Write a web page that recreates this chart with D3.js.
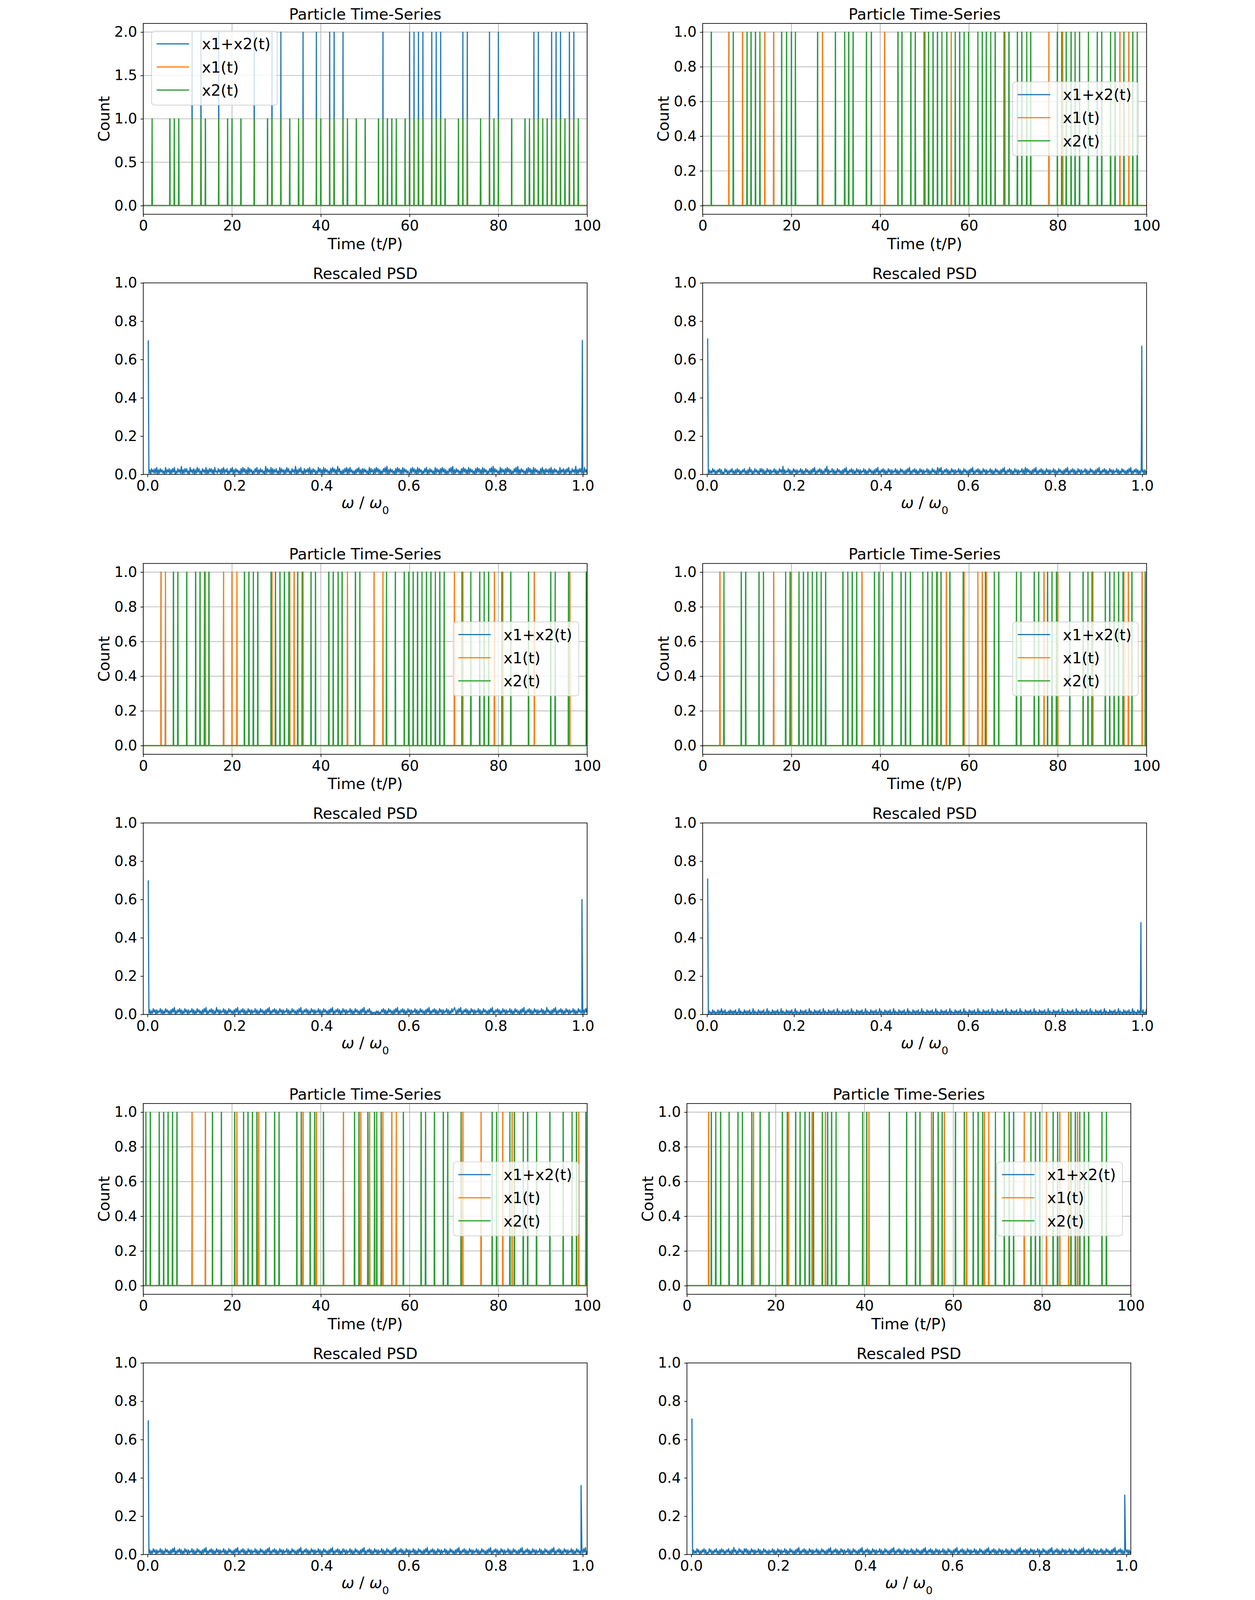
<!DOCTYPE html>
<html>
<head>
<meta charset="utf-8">
<script src="https://cdn.jsdelivr.net/npm/d3@7"></script>
<style>
  html, body { margin: 0; padding: 0; background: #fff; overflow: hidden; }
  #fig { display: block; width: 100vw; height: 100vh; }
  text { font-family: "DejaVu Sans", sans-serif; fill: #000; }
</style>
</head>
<body>
<svg id="fig" viewBox="0 0 3213 4779" preserveAspectRatio="xMidYMin meet"></svg>
<script>
// ---------------- data ----------------
const seriesNames = ["x1+x2(t)", "x1(t)", "x2(t)"];
const timeTicks = [0, 20, 40, 60, 80, 100];
const countTicks2 = [0, 0.5, 1, 1.5, 2];
const countTicks1 = [0, 0.2, 0.4, 0.6, 0.8, 1];
const freqTicks = [0, 0.2, 0.4, 0.6, 0.8, 1];
const psdTicks = [0, 0.2, 0.4, 0.6, 0.8, 1];

// spike times (t/P) of x1 and x2, one pair per time-series panel
const x1Times1 = [11, 13, 17, 25, 29, 31, 36, 39, 42, 43, 45, 54, 60, 61, 62, 63, 65, 66, 67, 72, 73, 78, 80, 88, 89, 92, 93, 94, 96, 97];
const x2Times1 = [2, 6, 7, 8, 11, 13, 14, 17, 19, 20, 22, 25, 28, 29, 31, 33, 35, 36, 39, 40, 42, 43, 45, 46, 48, 50, 53, 54, 55, 56, 57, 59, 60, 61, 62, 63, 65, 66, 67, 68, 71, 72, 73, 76, 78, 79, 80, 83, 86, 87, 88, 89, 90, 91, 92, 93, 94, 95, 96, 97, 98];

const x1Times2 = [5.9, 9.0, 14.0, 16.0, 27.0, 41.0, 50.1, 56.0, 68.1, 78.0, 81.1, 94.0, 96.0];
const x2Times2 = [1.95, 6.9, 10.0, 10.9, 11.9, 12.9, 17.8, 18.9, 20.0, 20.9, 25.9, 29.9, 32.0, 32.9, 33.9, 36.9, 38.0, 44.0, 44.9, 46.9, 47.9, 49.9, 50.9, 51.9, 52.9, 53.9, 55.0, 56.9, 57.9, 58.9, 59.9, 62.0, 63.0, 63.9, 64.9, 65.9, 67.9, 69.0, 70.9, 71.9, 73.0, 73.9, 79.9, 80.9, 81.9, 83.0, 83.9, 84.9, 86.9, 88.9, 89.9, 91.9, 92.9, 94.9, 96.9, 97.9];

const x1Times3 = [4.0, 5.0, 14.0, 18.1, 20.0, 21.1, 29.0, 33.0, 34.0, 36.0, 46.0, 52.0, 54.0, 70.1, 72.0, 79.1, 81.0, 88.1, 96.1];
const x2Times3 = [6.8, 7.8, 9.8, 11.8, 12.8, 13.8, 14.8, 22.8, 23.8, 24.8, 25.8, 28.8, 29.8, 30.8, 31.8, 32.8, 34.8, 35.8, 37.8, 38.8, 41.8, 42.8, 43.9, 44.8, 47.8, 48.8, 54.8, 56.8, 58.8, 59.8, 60.8, 61.8, 62.8, 63.8, 64.8, 65.8, 66.8, 67.8, 71.8, 73.8, 75.8, 76.8, 77.8, 80.8, 82.8, 86.8, 91.8, 92.8, 95.8, 99.8];

const x1Times4 = [3.9, 16.0, 20.0, 35.9, 52.9, 54.9, 58.9, 62.0, 63.0, 63.9, 76.9, 80.0, 87.9, 94.9, 95.9, 99.0];
const x2Times4 = [4.8, 8.7, 9.7, 12.7, 13.7, 18.7, 19.7, 21.7, 22.7, 23.7, 24.7, 25.7, 26.7, 27.7, 31.6, 32.7, 33.7, 34.7, 38.7, 39.7, 40.7, 42.7, 44.7, 45.7, 46.8, 49.6, 50.7, 51.7, 52.7, 53.7, 55.7, 58.7, 63.7, 65.7, 66.7, 70.7, 71.7, 74.7, 75.7, 77.7, 78.7, 79.7, 82.7, 85.7, 86.8, 87.7, 90.7, 91.7, 92.7, 93.7, 94.7, 96.7, 99.7];

const x1Times5 = [11.0, 14.0, 21.1, 26.0, 36.0, 39.0, 45.1, 49.0, 51.0, 54.0, 56.0, 57.0, 72.0, 76.1, 81.0, 83.1, 98.1];
const x2Times5 = [0.6, 1.6, 3.6, 4.6, 5.6, 6.6, 7.6, 15.6, 17.6, 20.6, 22.6, 23.6, 24.6, 25.6, 27.6, 29.6, 30.6, 34.6, 35.6, 37.6, 38.6, 40.6, 47.6, 48.6, 50.6, 52.1, 52.6, 53.6, 58.6, 62.6, 63.6, 65.6, 67.6, 68.6, 71.6, 78.6, 79.6, 82.6, 83.6, 85.6, 86.6, 88.6, 91.6, 94.6, 96.6, 97.6, 99.7];

const x1Times6 = [4.9, 15.0, 22.9, 28.2, 31.2, 41.0, 55.1, 58.0, 63.0, 67.0, 68.0, 76.0, 81.0, 84.0, 86.0, 88.0];
const x2Times6 = [5.5, 6.5, 7.6, 9.5, 11.5, 12.5, 14.6, 16.5, 18.5, 21.5, 22.6, 24.5, 25.5, 26.6, 27.6, 28.5, 30.5, 31.7, 32.6, 33.6, 36.5, 39.6, 40.5, 45.6, 49.5, 51.5, 52.5, 55.5, 56.6, 57.5, 60.5, 62.5, 64.5, 65.6, 66.6, 69.5, 71.5, 72.6, 73.6, 77.5, 78.5, 79.5, 82.5, 83.5, 86.5, 87.5, 88.5, 89.5, 90.5, 93.5, 94.5];

// PSD peaks [omega/omega0, power]
const psdPeaks1 = [[0.0015, 0.70], [0.999, 0.70]];
const psdPeaks2 = [[0.0015, 0.71], [0.999, 0.67]];
const psdPeaks3 = [[0.0015, 0.70], [0.998, 0.60]];
const psdPeaks4 = [[0.0015, 0.71], [0.997, 0.48]];
const psdPeaks5 = [[0.0015, 0.70], [0.996, 0.36]];
const psdPeaks6 = [[0.0015, 0.71], [0.996, 0.31]];

// PSD noise floor, one digit per sample, in units of 0.006
const psdNoise1 =
  "1405241516041524130614250415260315241704152513062415041625130524160415251406231524051614250315260415" +
  "2413051625140615240315260415241307152416051425130615240416251305241704152613051425160415240316251406" +
  "1524130516251407251304152605162413041526140515241306152405162514031526170415241305162514061524131051" +
  "6251406152403152604152413061524051625140315261704152413051625140615241305162514061524031526071524130" +
  "6152405162514031526170415241305162514061524130516140524151604152413061425041526031524170415251306241";
const psdNoise2 =
  "0413152403142514021524031425130415240314251304162403152413052514031524041325140315241704132514031524" +
  "0413251403152413041526031425140315270413251403152413041526031425140315240413251403152413041526031425" +
  "1403152404132514031524130415260314251403152404132514031524130615260314251403152404132514031524130415" +
  "2603142514031524041325140315241304152603142514031524041325140615241304152603142514031524041325140315" +
  "2413041526031425140315240413251403152413041526031425140315240413251403152413041526031425140315240413";
const psdNoise3 =
  "1403152404132514031524130415260314251403152404132514031524130415260314251403162404132514031524130415" +
  "2603142514031524041325140315241304152603142514031524041325140315241304152603142514031524041325140315" +
  "2413041526031425140315240413251403152413041526031425130212031302142514031524130415260314251403152404" +
  "1325140315241304152603142514031524041325140315246304152603142514031524041325140315241304152603142514" +
  "0315240413251403152413041526031425140315240413251403162413041526031425140315240413251403152413041526";
const psdNoise4 =
  "0312041302140315031402130413031402150312041303140215031204130314021503120413031402150312041303140215" +
  "0312041303140215031204130314021503120413031402150312041303140215031204130314021503120413031402150312" +
  "0413031402150312041303140215031204130314021503120413031402150312041303140215031204130314021503120413" +
  "0314021503120413031402150312041303140215031204130314021503120413031402150312041303140215031204130314" +
  "0215031204130314021503120413031402150312041303140215031204130314021503120413031402150312041303140215";
const psdNoise5 =
  "1403152404132514031524130415260314251403152404132514031524130415260314251403152404132514031524130415" +
  "2603142514031524041325140315241304152603142514031524041325140315241304152603142514031524041325140315" +
  "2413041526031425140315240413251403152413041526031425140315240413251403152413041526031425140315240413" +
  "2514031524130415260314251403152404132514031524130415260314251403152404132514031524130415260314251403" +
  "1524041325140315241304152603142514031524041325140315241304152603142514031524041325140315241304152603";
const psdNoise6 =
  "0413152403142514021524031425130415240314251304162403152413052514031524041325140315241304132514031524" +
  "0413251403152413041526031425140315240413251403152413041526031425140315240413251403152413041526031425" +
  "1403152404132514031524130415260314251403152404132514031524130415260314251403152404132514031524130415" +
  "2603142514031524041325140315241304152603142514031524041325140315241304152603142514031524041325140315" +
  "2413041526031425140315240413251403152413041526031425140315240413251403152413041526031425140315240413";

// ---------------- layout ----------------
const colors = ["#1f77b4", "#ff7f0e", "#2ca02c"];
const W = 1326, H_TS = 570, H_PSD = 572;
const dt = 0.05;          // half width of a one-sample spike
const svg = d3.select("#fig");

const tsPanels = [
  {x0: 160,  y0: 70,   x1: x1Times1, x2: x2Times1, yMax: 2, ticks: countTicks2, legend: "ul"},
  {x0: 1831, y0: 70,   x1: x1Times2, x2: x2Times2, yMax: 1, ticks: countTicks1, legend: "cr"},
  {x0: 160,  y0: 1683, x1: x1Times3, x2: x2Times3, yMax: 1, ticks: countTicks1, legend: "cr"},
  {x0: 1831, y0: 1683, x1: x1Times4, x2: x2Times4, yMax: 1, ticks: countTicks1, legend: "cr"},
  {x0: 160,  y0: 3296, x1: x1Times5, x2: x2Times5, yMax: 1, ticks: countTicks1, legend: "cr"},
  {x0: 1784, y0: 3296, x1: x1Times6, x2: x2Times6, yMax: 1, ticks: countTicks1, legend: "cr"}
];
const psdPanels = [
  {x0: 160,  y0: 845,  peaks: psdPeaks1, noise: psdNoise1},
  {x0: 1831, y0: 845,  peaks: psdPeaks2, noise: psdNoise2},
  {x0: 160,  y0: 2458, peaks: psdPeaks3, noise: psdNoise3},
  {x0: 1831, y0: 2458, peaks: psdPeaks4, noise: psdNoise4},
  {x0: 160,  y0: 4071, peaks: psdPeaks5, noise: psdNoise5},
  {x0: 1784, y0: 4071, peaks: psdPeaks6, noise: psdNoise6}
];

// turn a list of [t, value] events into a line through zero between spikes
function spikeLine(events) {
  const pts = [[0, 0]];
  events.forEach(([t, v]) => pts.push([t - dt, 0], [t, v], [t + dt, 0]));
  pts.push([100, 0]);
  return pts;
}

function styleAxis(g) {
  g.select(".domain").remove();
  g.selectAll(".tick line").attr("stroke", "#000").attr("stroke-width", 2);
  g.selectAll(".tick text").style("font-size", "43px").style("font-family", "DejaVu Sans");
}

function frame(g, w, h) {
  g.append("rect").attr("width", w).attr("height", h)
    .attr("fill", "none").attr("stroke", "#000").attr("stroke-width", 2);
}

function title(g, w, txt) {
  g.append("text").attr("x", w / 2).attr("y", -12)
    .attr("text-anchor", "middle").style("font-size", "46px").text(txt);
}

function drawTimeSeries(p, idx) {
  const g = svg.append("g").attr("transform", `translate(${p.x0},${p.y0})`);
  const x = d3.scaleLinear().domain([0, 100]).range([0, W]);
  const y = d3.scaleLinear().domain([-0.05 * p.yMax, 1.05 * p.yMax]).range([H_TS, 0]);

  // grid
  g.append("g").selectAll("line").data(timeTicks).join("line")
    .attr("x1", d => x(d)).attr("x2", d => x(d)).attr("y1", 0).attr("y2", H_TS)
    .attr("stroke", "#b0b0b0").attr("stroke-width", 2);
  g.append("g").selectAll("line").data(p.ticks).join("line")
    .attr("y1", d => y(d)).attr("y2", d => y(d)).attr("x1", 0).attr("x2", W)
    .attr("stroke", "#b0b0b0").attr("stroke-width", 2);

  // series: sum, x1, x2
  const sum = Array.from(d3.rollup([...p.x1, ...p.x2], v => v.length, t => t)).sort((a, b) => a[0] - b[0]);
  const series = [sum, p.x1.map(t => [t, 1]), p.x2.map(t => [t, 1])];

  const clipId = "clipTS" + idx;
  g.append("clipPath").attr("id", clipId).append("rect").attr("width", W).attr("height", H_TS);
  const line = d3.line().x(d => x(d[0])).y(d => y(d[1]));
  g.append("g").attr("clip-path", `url(#${clipId})`)
    .selectAll("path").data(series).join("path")
    .attr("d", d => line(spikeLine(d)))
    .attr("fill", "none").attr("stroke", (d, i) => colors[i])
    .attr("stroke-width", 3.5).attr("stroke-linejoin", "round");

  // axes
  g.append("g").attr("transform", `translate(0,${H_TS})`)
    .call(d3.axisBottom(x).tickValues(timeTicks).tickSize(8).tickPadding(10).tickFormat(d3.format("d")))
    .call(styleAxis);
  g.append("g")
    .call(d3.axisLeft(y).tickValues(p.ticks).tickSize(8).tickPadding(10).tickFormat(d3.format(".1f")))
    .call(styleAxis);
  frame(g, W, H_TS);
  title(g, W, "Particle Time-Series");

  g.append("text").attr("x", W / 2).attr("y", H_TS + 104)
    .attr("text-anchor", "middle").style("font-size", "46px").text("Time (t/P)");
  g.append("text").attr("transform", `translate(-101,${H_TS / 2}) rotate(-90)`)
    .attr("text-anchor", "middle").style("font-size", "46px").text("Count");

  // legend
  const lw = 375, lh = 221;
  const lx = p.legend === "ul" ? 25 : W - 25 - lw;
  const ly = p.legend === "ul" ? 23 : H_TS / 2 - lh / 2;
  const lg = g.append("g").attr("transform", `translate(${lx},${ly})`);
  lg.append("rect").attr("width", lw).attr("height", lh).attr("rx", 9)
    .attr("fill", "#fff").attr("fill-opacity", 0.8)
    .attr("stroke", "#cccccc").attr("stroke-width", 2);
  seriesNames.forEach((name, i) => {
    const cy = 38 + i * 69;
    lg.append("line").attr("x1", 15).attr("x2", 112).attr("y1", cy).attr("y2", cy)
      .attr("stroke", colors[i]).attr("stroke-width", 3.5);
    lg.append("text").attr("x", 150).attr("y", cy).attr("dy", "0.36em")
      .style("font-size", "46px").text(name);
  });
}

function drawPsd(p, idx) {
  const g = svg.append("g").attr("transform", `translate(${p.x0},${p.y0})`);
  const x = d3.scaleLinear().domain([-0.01, 1.01]).range([0, W]);
  const y = d3.scaleLinear().domain([0, 1]).range([H_PSD, 0]);

  const vals = p.noise.split("").map(Number);
  const step = (1.01 - 0.003) / (vals.length - 1);
  const pts = vals.map((v, i) => [0.003 + i * step, v * 0.006]);
  p.peaks.forEach(pk => pts.push(pk));
  pts.sort((a, b) => a[0] - b[0]);

  const clipId = "clipPSD" + idx;
  g.append("clipPath").attr("id", clipId).append("rect").attr("width", W).attr("height", H_PSD);
  g.append("path").attr("clip-path", `url(#${clipId})`)
    .datum(pts)
    .attr("d", d3.line().x(d => x(d[0])).y(d => y(d[1])))
    .attr("fill", "none").attr("stroke", colors[0])
    .attr("stroke-width", 3.5).attr("stroke-linejoin", "round");

  g.append("g").attr("transform", `translate(0,${H_PSD})`)
    .call(d3.axisBottom(x).tickValues(freqTicks).tickSize(8).tickPadding(10).tickFormat(d3.format(".1f")))
    .call(styleAxis);
  g.append("g")
    .call(d3.axisLeft(y).tickValues(psdTicks).tickSize(8).tickPadding(10).tickFormat(d3.format(".1f")))
    .call(styleAxis);
  frame(g, W, H_PSD);
  title(g, W, "Rescaled PSD");

  const lab = g.append("text").attr("x", W / 2).attr("y", H_PSD + 100)
    .attr("text-anchor", "middle").style("font-size", "46px");
  lab.append("tspan").style("font-style", "italic").text("ω");
  lab.append("tspan").text(" / ");
  lab.append("tspan").style("font-style", "italic").text("ω");
  lab.append("tspan").attr("baseline-shift", "sub").style("font-size", "32px").text("0");
}

tsPanels.forEach(drawTimeSeries);
psdPanels.forEach(drawPsd);
</script>
</body>
</html>
